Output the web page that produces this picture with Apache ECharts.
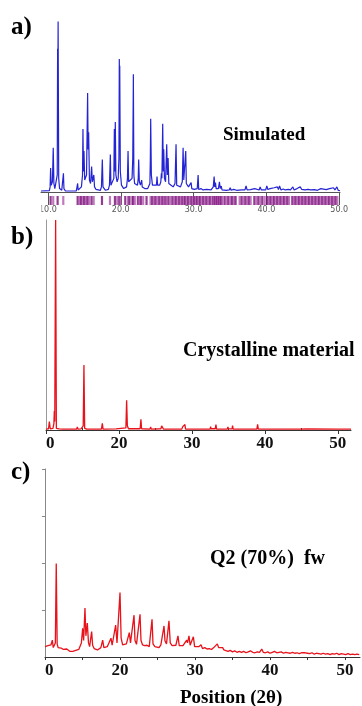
<!DOCTYPE html>
<html>
<head>
<meta charset="utf-8">
<script src="https://cdn.jsdelivr.net/npm/echarts@6/dist/echarts.min.js"></script>
<style>
  html, body { margin: 0; padding: 0; background: #fff; }
  #chart { width: 362px; height: 706px; }
</style>
</head>
<body>
<div id="chart"></div>
<script>
// a) simulated powder pattern: [2θ, relative intensity]
const simulatedProfile = [
  [9.05,.006],[10.2,.008],[10.3,.03],[10.37,.14],[10.45,.04],[10.62,.06],[10.73,.26],[10.82,.05],[10.95,.02],
  [11.2,.03],[11.28,.1],[11.33,.84],[11.36,.6],[11.4,1.0],[11.48,.08],[11.6,.02],[11.9,.01],[12.05,.02],
  [12.13,.11],[12.2,.02],[12.4,.006],[13.9,.006],[14.0,.015],[14.08,.05],[14.15,.012],[14.4,.015],[14.6,.03],
  [14.75,.1],[14.81,.37],[14.88,.12],[14.95,.24],[15.05,.07],[15.2,.06],[15.3,.1],[15.45,.58],[15.52,.25],
  [15.59,.35],[15.7,.07],[15.85,.05],[16.0,.15],[16.1,.06],[16.2,.05],[16.3,.1],[16.4,.03],[16.6,.015],
  [17.2,.01],[17.35,.03],[17.47,.19],[17.56,.03],[17.9,.01],[18.3,.015],[18.45,.04],[18.57,.22],[18.65,.04],
  [18.85,.04],[19.05,.08],[19.12,.37],[19.18,.12],[19.25,.41],[19.33,.1],[19.5,.06],[19.65,.08],[19.75,.2],
  [19.8,.78],[19.83,.55],[19.86,.74],[19.94,.12],[20.02,.13],[20.1,.04],[20.4,.02],[20.8,.03],[20.92,.08],
  [21.0,.24],[21.08,.06],[21.3,.05],[21.55,.08],[21.65,.2],[21.7,.5],[21.73,.69],[21.8,.1],[21.9,.05],
  [22.3,.04],[22.4,.08],[22.46,.19],[22.55,.06],[22.7,.04],[22.87,.07],[22.95,.03],[23.3,.02],[23.7,.02],
  [24.0,.05],[24.06,.19],[24.11,.43],[24.2,.1],[24.35,.04],[24.9,.04],[24.98,.09],[25.06,.04],[25.35,.04],
  [25.5,.06],[25.58,.11],[25.65,.08],[25.76,.4],[25.84,.12],[25.9,.25],[26.0,.08],[26.15,.06],[26.31,.28],
  [26.4,.1],[26.5,.2],[26.6,.05],[26.9,.04],[27.2,.03],[27.45,.05],[27.59,.28],[27.68,.04],[27.9,.03],
  [28.2,.03],[28.45,.06],[28.56,.26],[28.65,.07],[28.8,.06],[28.92,.24],[29.0,.05],[29.3,.03],[29.5,.025],
  [29.66,.055],[29.75,.02],[30.1,.015],[30.5,.02],[30.62,.1],[30.7,.015],[31.0,.02],[31.3,.012],[31.8,.015],
  [32.4,.012],[32.7,.03],[32.82,.09],[32.9,.03],[33.0,.055],[33.1,.02],[33.4,.02],[33.55,.06],[33.65,.02],
  [33.8,.035],[33.9,.012],[34.5,.01],[34.9,.012],[35.02,.025],[35.15,.01],[35.5,.015],[35.9,.01],[36.6,.012],
  [37.05,.012],[37.2,.035],[37.35,.012],[37.8,.014],[38.4,.02],[38.6,.01],[39.0,.012],[39.14,.03],[39.3,.012],
  [39.9,.012],[40.05,.035],[40.2,.015],[40.5,.02],[40.7,.012],[41.06,.025],[41.3,.015],[41.5,.03],[41.65,.015],
  [41.8,.035],[42.0,.012],[42.3,.018],[42.6,.012],[43.0,.015],[43.3,.012],[43.63,.03],[43.8,.012],[44.2,.02],
  [44.45,.012],[44.64,.03],[44.85,.015],[45.1,.025],[45.3,.012],[45.7,.015],[46.1,.012],[46.6,.014],[47.0,.01],
  [47.47,.02],[47.7,.01],[48.2,.014],[48.66,.02],[48.9,.012],[49.2,.025],[49.4,.012],[49.67,.03],[49.85,.01],
  [50.1,.008]
];

// a) calculated reflection positions (2θ)
const reflectionPositions = [
  10.37,10.73,11.33,12.11,14.08,14.31,14.54,14.81,15.0,15.23,15.45,15.68,16.0,16.28,17.42,18.52,19.2,19.52,
  19.8,19.98,20.62,21.0,21.2,21.57,21.7,21.93,22.35,22.53,22.76,23.08,23.54,24.09,24.32,24.55,24.78,25.0,
  25.28,25.55,25.74,25.92,26.15,26.29,26.56,26.84,27.11,27.34,27.57,27.8,28.03,28.26,28.48,28.67,28.85,29.04,
  29.26,29.49,29.72,29.95,30.13,30.32,30.5,30.68,30.87,31.1,31.33,31.56,31.78,32.01,32.24,32.47,32.7,32.84,
  32.98,33.11,33.25,33.39,33.53,33.66,33.8,33.94,34.26,34.49,34.76,35.04,35.27,35.54,35.77,36.32,36.6,36.83,
  37.1,37.33,37.6,37.83,38.34,38.61,38.89,39.16,39.44,39.76,40.12,40.35,40.58,40.81,41.04,41.26,41.49,41.72,
  41.95,42.18,42.41,42.64,42.87,43.1,43.55,43.78,44.01,44.24,44.47,44.7,44.93,45.16,45.38,45.61,45.84,46.07,
  46.3,46.53,46.76,46.99,47.21,47.44,47.67,47.9,48.13,48.36,48.59,48.81,49.04,49.27,49.5,49.73
];

// b) crystalline material: [2θ, relative intensity]
const crystallineProfile = [
  [10.0,.004],[10.35,.006],[10.46,.04],[10.58,.006],[10.95,.008],[11.08,.03],[11.14,.09],[11.2,.04],[11.32,1.0],
  [11.42,.008],[11.8,.005],[12.3,.004],[14.2,.004],[14.29,.015],[14.38,.004],[14.8,.005],[14.9,.01],[15.1,.02],
  [15.2,.31],[15.3,.008],[15.6,.004],[17.6,.004],[17.72,.032],[17.82,.004],[19.6,.005],[19.8,.008],[20.95,.01],
  [21.05,.142],[21.15,.02],[21.3,.006],[22.9,.006],[23.01,.051],[23.1,.006],[24.25,.004],[24.34,.014],[24.43,.004],
  [25.75,.006],[25.85,.02],[25.92,.012],[26.0,.022],[26.1,.004],[27.85,.004],[27.9,.008],[27.95,.004],[28.62,.004],
  [28.72,.015],[28.85,.006],[28.95,.008],[29.04,.026],[29.12,.004],[30.9,.004],[30.96,.01],[31.02,.004],[32.5,.004],
  [32.56,.016],[32.62,.006],[33.2,.006],[33.29,.026],[33.37,.004],[34.85,.004],[34.93,.015],[35.0,.005],[35.5,.006],
  [35.57,.021],[35.65,.004],[37.35,.004],[37.4,.01],[37.45,.004],[38.9,.004],[39.0,.027],[39.1,.004],[40.3,.004],
  [40.37,.01],[40.44,.004],[41.55,.004],[41.6,.006],[41.65,.004],[43.0,.004],[43.06,.01],[43.12,.004],[44.75,.004],
  [44.8,.006],[44.85,.004],[45.7,.005],[49.95,.004],[50.05,.011],[50.15,.004],[51.8,.004]
];

// c) Q2 (70%) fw: [2θ, intensity]
const q2Profile = [
  [10.0,.22],[10.2,.18],[10.4,.24],[10.6,.2],[10.8,.26],[10.98,.36],[11.1,.2],[11.25,.22],[11.38,.3],[11.5,1.99],
  [11.62,.28],[11.75,.2],[11.95,.16],[12.15,.19],[12.3,.22],[12.45,.16],[12.7,.14],[12.9,.17],[13.1,.13],[13.3,.12],
  [13.5,.15],[13.7,.12],[13.9,.11],[14.1,.14],[14.3,.12],[14.5,.16],[14.7,.2],[14.85,.3],[15.02,.61],[15.15,.35],
  [15.33,1.04],[15.45,.45],[15.64,.72],[15.8,.3],[15.95,.22],[16.22,.54],[16.35,.25],[16.55,.18],[16.8,.2],[17.0,.15],
  [17.2,.18],[17.45,.2],[17.69,.36],[17.85,.2],[18.05,.18],[18.3,.22],[18.55,.19],[18.8,.4],[18.95,.25],[19.15,.28],
  [19.42,.68],[19.6,.3],[19.8,.3],[20.0,1.37],[20.15,.4],[20.35,.26],[20.6,.25],[20.85,.28],[21.05,.3],[21.24,.52],
  [21.4,.3],[21.6,.28],[21.87,.89],[22.0,.35],[22.2,.27],[22.45,.3],[22.67,.91],[22.8,.35],[23.0,.26],[23.3,.24],
  [23.6,.25],[23.9,.22],[24.1,.26],[24.27,.8],[24.4,.28],[24.65,.22],[24.9,.25],[25.2,.2],[25.45,.26],[25.7,.3],
  [25.87,.66],[26.0,.34],[26.2,.28],[26.35,.3],[26.53,.77],[26.7,.3],[26.95,.24],[27.2,.22],[27.45,.25],[27.73,.45],
  [27.9,.24],[28.15,.21],[28.4,.24],[28.65,.22],[28.89,.36],[29.0,.3],[29.2,.45],[29.35,.25],[29.55,.22],[29.78,.43],
  [29.95,.22],[30.2,.2],[30.5,.22],[30.8,.26],[31.0,.18],[31.3,.2],[31.6,.17],[31.9,.18],[32.2,.16],[32.5,.2],
  [32.75,.18],[32.98,.28],[33.15,.2],[33.4,.18],[33.69,.2],[33.85,.15],[34.1,.16],[34.4,.12],[34.7,.14],[35.0,.11],
  [35.3,.13],[35.6,.1],[35.9,.12],[36.2,.1],[36.5,.12],[36.8,.09],[37.1,.11],[37.4,.13],[37.7,.1],[38.0,.09],
  [38.3,.11],[38.6,.1],[38.9,.17],[39.1,.1],[39.4,.09],[39.7,.11],[40.0,.08],[40.3,.1],[40.6,.12],[40.9,.09],
  [41.2,.1],[41.5,.11],[41.8,.08],[42.1,.1],[42.4,.09],[42.7,.08],[43.0,.1],[43.3,.08],[43.6,.09],[43.9,.07],
  [44.2,.09],[44.45,.13],[44.7,.09],[45.0,.08],[45.3,.07],[45.6,.09],[45.9,.06],[46.2,.08],[46.5,.07],[46.8,.06],
  [47.1,.08],[47.4,.06],[47.7,.07],[48.0,.05],[48.3,.07],[48.6,.06],[48.9,.08],[49.2,.05],[49.5,.07],[49.8,.06],
  [50.1,.05],[50.4,.07],[50.7,.05],[51.0,.06],[51.3,.05],[51.6,.06],[51.9,.05]
];

// tick positions and labels
const ticksSimulated = [10, 20, 30, 40, 50];
const labelsSimulated = ['10.0', '20.0', '30.0', '40.0', '50.0'];
const ticksMajor = [10, 20, 30, 40, 50];
const labelsMajor = ['10', '20', '30', '40', '50'];
const ticksMinor = [15, 25, 35, 45];
const ticksC = [10, 15, 20, 25, 30, 35, 40, 45, 50];
const yTicksC = [1, 2, 3, 4];

const SERIF = '"Liberation Serif", "Times New Roman", serif';
const pick = (ticks, labels) => v => {
  const i = ticks.findIndex(t => Math.abs(t - v) < 1e-6);
  return i < 0 ? '' : labels[i];
};

const chart = echarts.init(document.getElementById('chart'), null, { renderer: 'canvas' });

const hidden = { show: false };
const bcLabel = {
  customValues: ticksMajor, formatter: pick(ticksMajor, labelsMajor),
  fontFamily: SERIF, fontWeight: 'bold', fontSize: 17, color: '#111', margin: 5
};

chart.setOption({
  animation: false,
  backgroundColor: '#fff',
  grid: [
    { left: 41, top: 13, width: 299, height: 179 },
    { left: 41, top: 196, width: 299, height: 9 },
    { left: 46, top: 220, width: 305, height: 210 },
    { left: 45, top: 469, width: 315, height: 188 }
  ],
  xAxis: [
    { gridIndex: 0, type: 'value', min: 9.05, max: 50.1,
      axisLine: { show: true, onZero: false, lineStyle: { color: '#555', width: 1 } },
      axisTick: { show: true, customValues: ticksSimulated, length: 13, lineStyle: { color: '#555' } },
      axisLabel: { customValues: ticksSimulated, formatter: pick(ticksSimulated, labelsSimulated),
                   fontFamily: 'DejaVu Sans', fontSize: 8, color: '#555', margin: 14 },
      splitLine: hidden },
    { gridIndex: 1, type: 'value', min: 9.05, max: 50.1, show: false },
    { gridIndex: 2, type: 'value', min: 10, max: 51.8,
      axisLine: { show: true, onZero: false, lineStyle: { color: '#333', width: 1 } },
      axisTick: { show: true, customValues: ticksMajor, length: 4, lineStyle: { color: '#333' } },
      axisLabel: bcLabel, splitLine: hidden },
    { gridIndex: 2, type: 'value', min: 10, max: 51.8,
      axisLine: hidden, axisLabel: hidden, splitLine: hidden,
      axisTick: { show: true, customValues: ticksMinor, length: 2, lineStyle: { color: '#333' } } },
    { gridIndex: 3, type: 'value', min: 10, max: 52,
      axisLine: { show: true, onZero: false, lineStyle: { color: '#333', width: 1 } },
      axisTick: { show: true, customValues: ticksC, length: 3, lineStyle: { color: '#333' } },
      axisLabel: bcLabel, splitLine: hidden }
  ],
  yAxis: [
    { gridIndex: 0, type: 'value', min: 0, max: 1.05, show: false },
    { gridIndex: 1, type: 'value', min: 0, max: 1, show: false },
    { gridIndex: 2, type: 'value', min: 0, max: 1,
      axisLine: { show: true, onZero: false, lineStyle: { color: '#999', width: 1 } },
      axisTick: hidden, axisLabel: hidden, splitLine: hidden },
    { gridIndex: 3, type: 'value', min: 0, max: 4,
      axisLine: { show: true, onZero: false, lineStyle: { color: '#888', width: 1 } },
      axisTick: { show: true, customValues: yTicksC, length: 3, lineStyle: { color: '#888' } },
      axisLabel: hidden, splitLine: hidden }
  ],
  series: [
    { type: 'line', xAxisIndex: 0, yAxisIndex: 0, data: simulatedProfile, showSymbol: false,
      lineStyle: { color: '#2424d4', width: 1.2 } },
    { type: 'scatter', xAxisIndex: 1, yAxisIndex: 1, symbol: 'rect', symbolSize: [2.2, 9],
      data: reflectionPositions.map(x => [x, 0.5]),
      itemStyle: { color: p => (p.dataIndex % 2 ? '#b055ae' : '#760c74') } },
    { type: 'line', xAxisIndex: 2, yAxisIndex: 2, data: crystallineProfile, showSymbol: false,
      lineStyle: { color: '#e8121b', width: 1.3 } },
    { type: 'line', xAxisIndex: 4, yAxisIndex: 3, data: q2Profile, showSymbol: false,
      lineStyle: { color: '#e8121b', width: 1.3 } }
  ],
  graphic: [
    // left margin masks: the first tick label runs past the frame edge
    { type: 'rect', z: 100, shape: { x: 28, y: 205, width: 13.5, height: 12 }, style: { fill: '#fff' } },
    { type: 'rect', z: 100, shape: { x: 28, y: 434, width: 17.5, height: 20 }, style: { fill: '#fff' } },
    { type: 'rect', z: 100, shape: { x: 28, y: 661, width: 16.5, height: 20 }, style: { fill: '#fff' } },
    { type: 'text', z: 101, x: 11, y: 28, style: { text: 'a)', font: 'bold 25px ' + SERIF, fill: '#000', align: 'left', verticalAlign: 'middle' } },
    { type: 'text', z: 101, x: 223, y: 135, style: { text: 'Simulated', font: 'bold 19px ' + SERIF, fill: '#000', align: 'left', verticalAlign: 'middle' } },
    { type: 'text', z: 101, x: 11, y: 238, style: { text: 'b)', font: 'bold 25px ' + SERIF, fill: '#000', align: 'left', verticalAlign: 'middle' } },
    { type: 'text', z: 101, x: 183, y: 351, style: { text: 'Crystalline material', font: 'bold 20px ' + SERIF, fill: '#000', align: 'left', verticalAlign: 'middle' } },
    { type: 'text', z: 101, x: 11, y: 473, style: { text: 'c)', font: 'bold 25px ' + SERIF, fill: '#000', align: 'left', verticalAlign: 'middle' } },
    { type: 'text', z: 101, x: 210, y: 559, style: { text: 'Q2 (70%)  fw', font: 'bold 20px ' + SERIF, fill: '#000', align: 'left', verticalAlign: 'middle' } },
    { type: 'text', z: 101, x: 180, y: 698, style: { text: 'Position (2θ)', font: 'bold 19px ' + SERIF, fill: '#000', align: 'left', verticalAlign: 'middle' } }
  ]
});
</script>
</body>
</html>
